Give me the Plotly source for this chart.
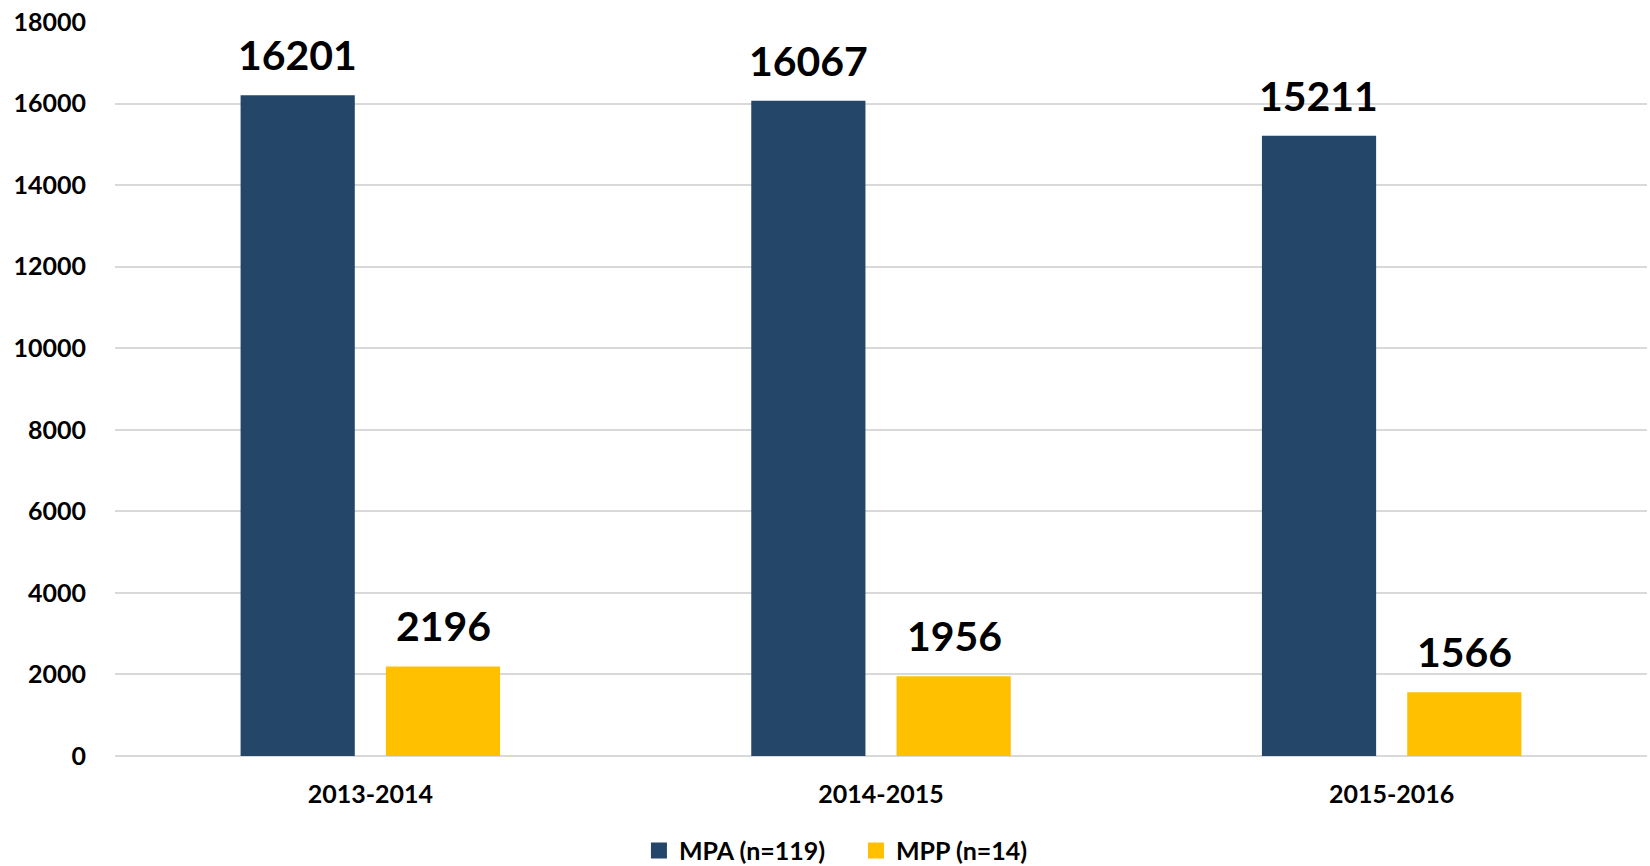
import plotly.graph_objects as go

categories = ["2013-2014", "2014-2015", "2015-2016"]
mpa_values = [16201, 16067, 15211]
mpp_values = [2196, 1956, 1566]
series_names = ["MPA (n=119)", "MPP (n=14)"]
y_ticks = [0, 2000, 4000, 6000, 8000, 10000, 12000, 14000, 16000, 18000]

BLUE = "#234669"
YELLOW = "#FFC000"
FONT = "Lato"

fig = go.Figure()
fig.add_trace(go.Bar(x=categories, y=mpa_values, name=series_names[0],
                     marker=dict(color=BLUE, line=dict(width=0)), showlegend=False))
fig.add_trace(go.Bar(x=categories, y=mpp_values, name=series_names[1],
                     marker=dict(color=YELLOW, line=dict(width=0)), showlegend=False))

# legend proxies (square markers)
for name, col in zip(series_names, [BLUE, YELLOW]):
    fig.add_trace(go.Scatter(x=[None], y=[None], mode="markers", name=name,
                             marker=dict(symbol="square", size=16, color=col)))

offset_px = 73
for vals, sh in [(mpa_values, -offset_px), (mpp_values, offset_px)]:
    for c, v in zip(categories, vals):
        fig.add_annotation(x=c, y=v, text=f"<b>{v}</b>", showarrow=False,
                           xshift=sh, yanchor="bottom", yshift=14,
                           font=dict(family=FONT, size=41, color="#000000"))

fig.update_layout(
    width=1650, height=866,
    margin=dict(l=115, r=3, t=22, b=110, autoexpand=False),
    paper_bgcolor="white", plot_bgcolor="white",
    barmode="group", bargap=0.431, bargroupgap=0.214,
    font=dict(family=FONT, size=25, color="#000000"),
    showlegend=True,
    legend=dict(orientation="h", x=0.342, xanchor="left", y=-0.129, yanchor="middle",
                font=dict(family=FONT, size=25, color="#000000", weight="bold"),
                entrywidth=172, itemsizing="trace"),
)
fig.update_yaxes(range=[0, 18000], tickvals=y_ticks, ticktext=[f"<b>{t}</b>" for t in y_ticks],
                 showgrid=True, gridcolor="#D9D9D9", gridwidth=1.5,
                 zeroline=True, zerolinecolor="#D9D9D9", zerolinewidth=2,
                 showline=False, ticks="", ticklabelstandoff=28, automargin=False,
                 ticklabeloverflow="allow",
                 tickfont=dict(family=FONT, size=25, color="#000000"))
fig.update_xaxes(tickvals=categories, ticktext=[f"<b>{c}</b>" for c in categories],
                 showgrid=False, showline=False, ticks="", ticklabelstandoff=21, automargin=False,
                 tickfont=dict(family=FONT, size=25, color="#000000"))

fig.write_html("out.html", config={"displayModeBar": False},
               post_script="document.body.style.margin='0px';document.body.style.overflow='hidden';")
